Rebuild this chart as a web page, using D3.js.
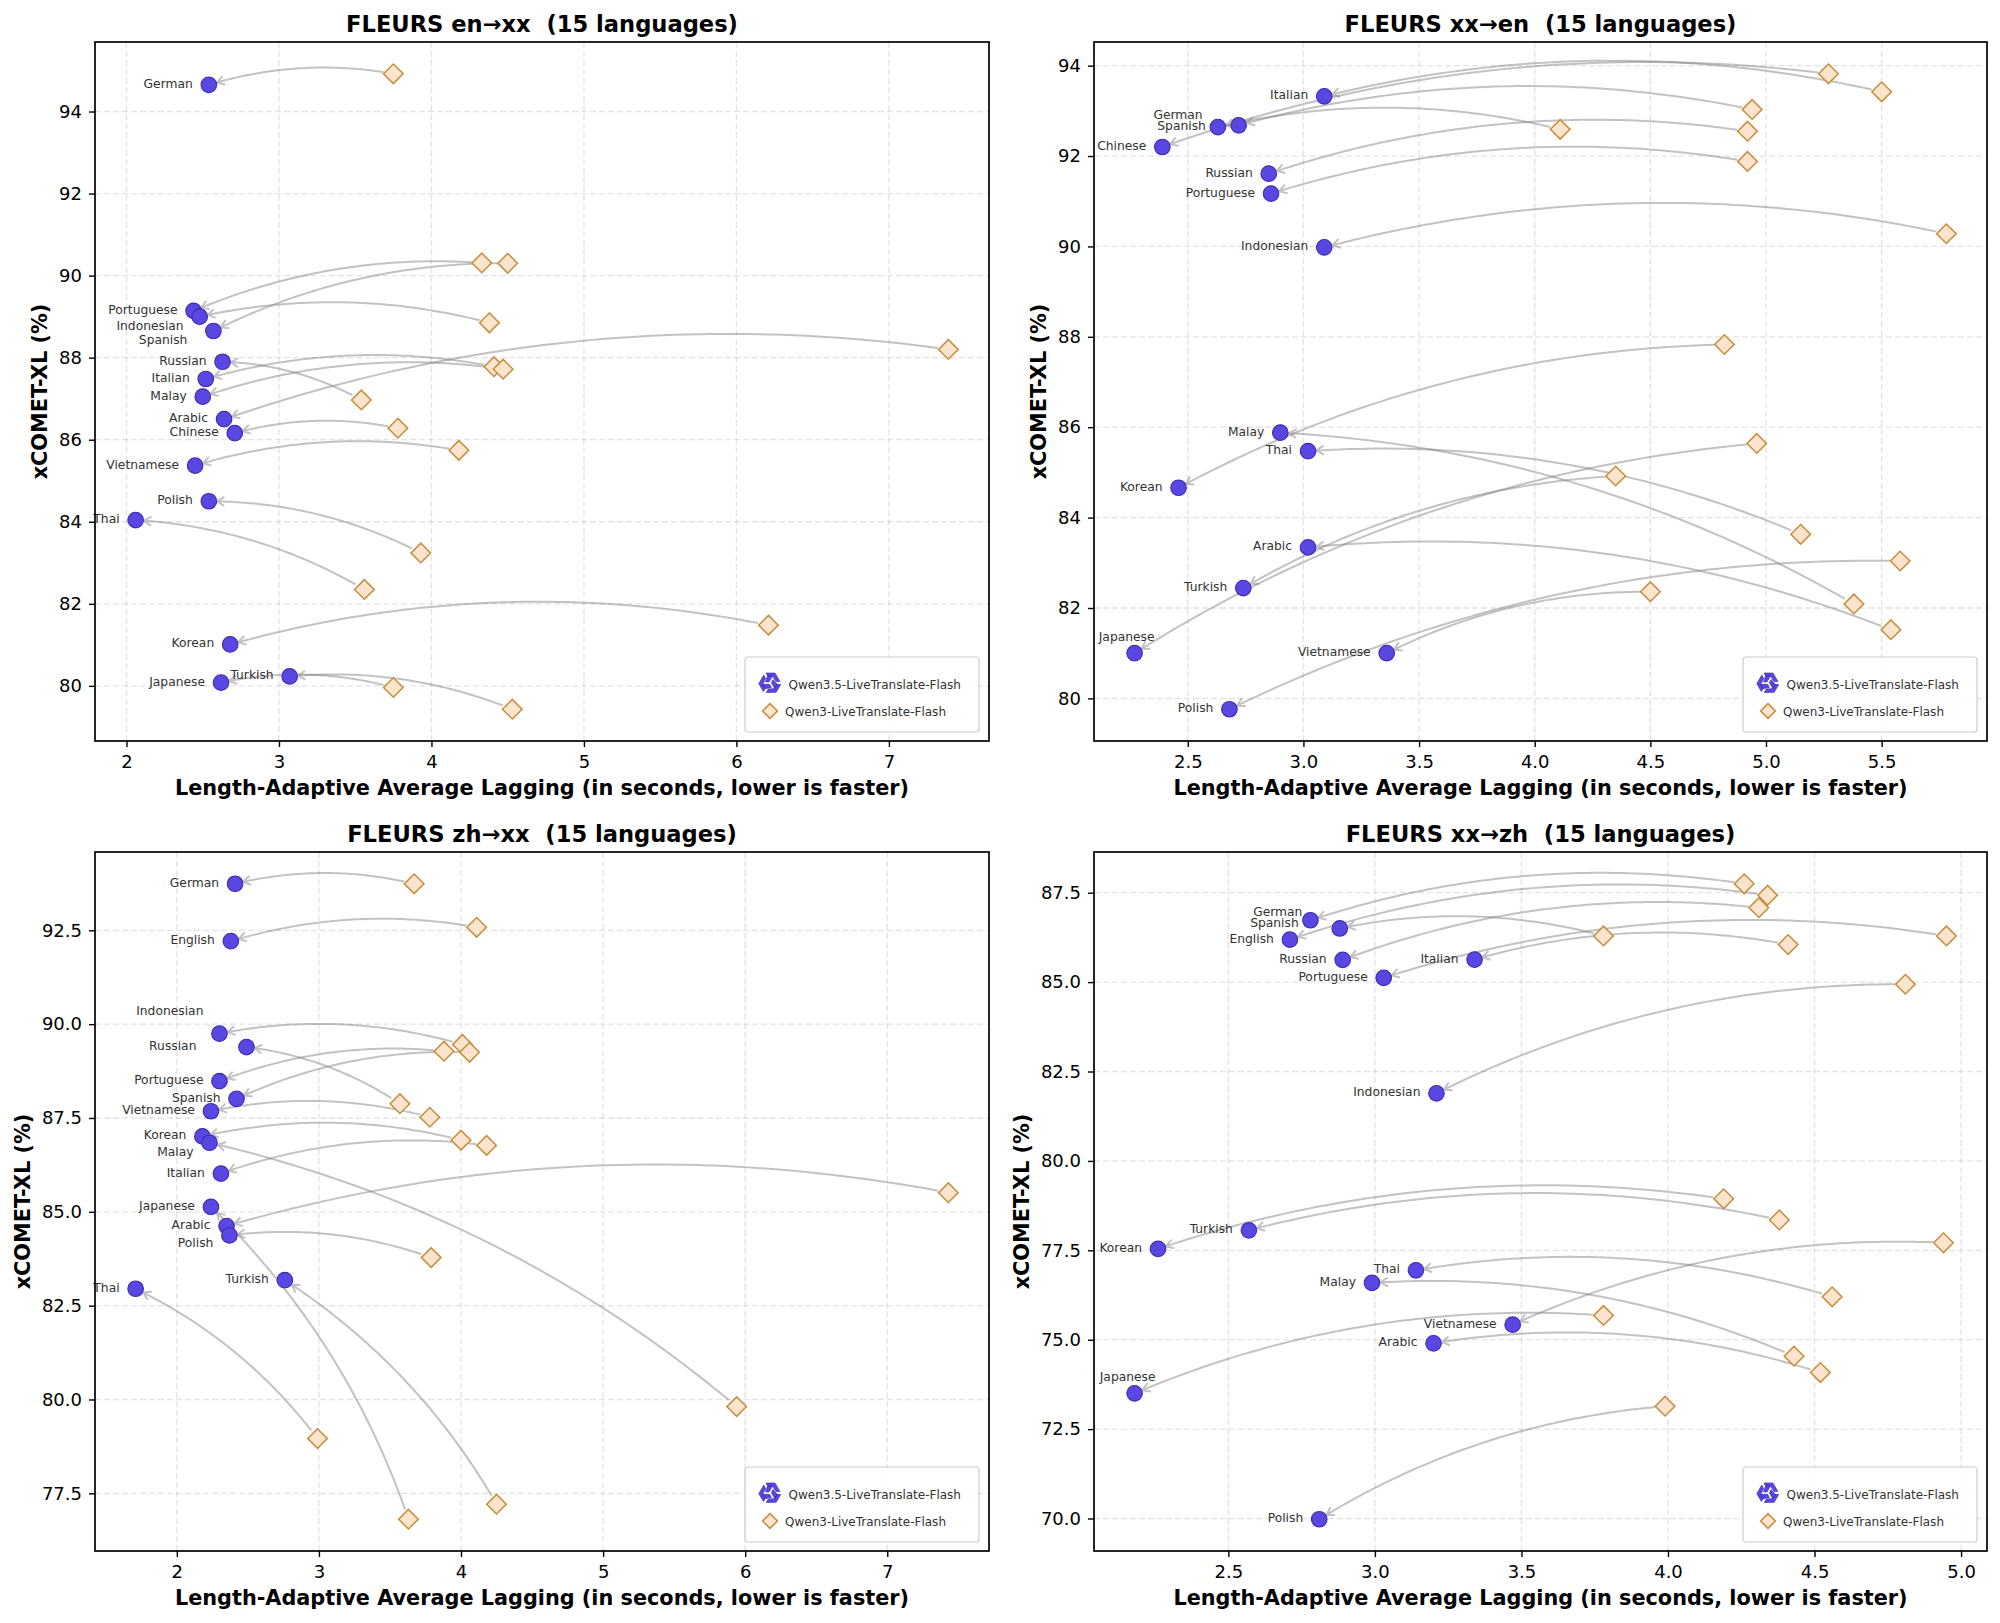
<!DOCTYPE html>
<html>
<head>
<meta charset="utf-8">
<script src="https://cdn.jsdelivr.net/npm/d3@7"></script>
<style>
  body { margin: 0; background: #fff; }
  svg { display: block; font-family: "DejaVu Sans", sans-serif; }
</style>
</head>
<body>
<svg id="chart" width="2000" height="1623"></svg>
<script>
// ---- data: FLEURS en→xx ----
const langsEnXX = ["German", "Portuguese", "Indonesian", "Spanish", "Russian", "Italian", "Malay", "Arabic",
  "Chinese", "Vietnamese", "Polish", "Thai", "Korean", "Turkish", "Japanese"];
const lagNewEnXX = [2.54, 2.44, 2.48, 2.57, 2.63, 2.52, 2.50, 2.64, 2.71, 2.45, 2.54, 2.06, 2.68, 3.07, 2.62];
const scoreNewEnXX = [94.65, 89.14, 89.00, 88.65, 87.90, 87.48, 87.05, 86.50, 86.16, 85.37, 84.50, 84.04, 81.01, 80.23, 80.08];
const lagOldEnXX = [3.75, 4.33, 4.38, 4.50, 3.54, 4.41, 4.47, 7.39, 3.78, 4.18, 3.93, 3.56, 6.21, 4.53, 3.75];
const scoreOldEnXX = [94.92, 90.31, 88.85, 90.30, 86.97, 87.78, 87.72, 88.20, 86.28, 85.74, 83.24, 82.35, 81.48, 79.43, 79.96];

// ---- data: FLEURS xx→en ----
const langsXXEn = ["Italian", "German", "Spanish", "Chinese", "Russian", "Portuguese", "Indonesian", "Malay",
  "Thai", "Korean", "Arabic", "Turkish", "Japanese", "Vietnamese", "Polish"];
const lagNewXXEn = [3.09, 2.72, 2.63, 2.39, 2.85, 2.86, 3.09, 2.90, 3.02, 2.46, 3.02, 2.74, 2.27, 3.36, 2.68];
const scoreNewXXEn = [93.32, 92.68, 92.64, 92.20, 91.61, 91.17, 89.98, 85.88, 85.47, 84.66, 83.34, 82.44, 81.00, 81.00, 79.76];
const lagOldXXEn = [5.50, 4.94, 4.11, 5.27, 4.92, 4.92, 5.78, 5.38, 5.15, 4.82, 5.54, 4.35, 4.96, 4.50, 5.58];
const scoreOldXXEn = [93.42, 93.03, 92.59, 93.82, 92.55, 91.88, 90.28, 82.09, 83.63, 87.83, 81.52, 84.92, 85.64, 82.36, 83.04];

// ---- data: FLEURS zh→xx ----
const langsZhXX = ["German", "English", "Indonesian", "Russian", "Portuguese", "Spanish", "Vietnamese", "Korean",
  "Malay", "Italian", "Japanese", "Arabic", "Polish", "Turkish", "Thai"];
const lagNewZhXX = [2.41, 2.38, 2.30, 2.49, 2.30, 2.42, 2.24, 2.18, 2.23, 2.31, 2.24, 2.35, 2.37, 2.76, 1.71];
const scoreNewZhXX = [93.74, 92.21, 89.75, 89.39, 88.48, 88.01, 87.68, 87.01, 86.84, 86.02, 85.13, 84.62, 84.37, 83.18, 82.95];
const lagOldZhXX = [3.67, 4.11, 4.01, 3.57, 3.88, 4.06, 3.78, 4.00, 5.94, 4.18, 3.63, 7.43, 3.79, 4.25, 2.99];
const scoreOldZhXX = [93.74, 92.58, 89.46, 87.88, 89.28, 89.25, 87.52, 86.91, 79.81, 86.77, 76.81, 85.51, 83.78, 77.21, 78.96];

// ---- data: FLEURS xx→zh ----
const langsXXZh = ["German", "Spanish", "English", "Russian", "Italian", "Portuguese", "Indonesian", "Turkish",
  "Korean", "Thai", "Malay", "Vietnamese", "Arabic", "Japanese", "Polish"];
const lagNewXXZh = [2.78, 2.88, 2.71, 2.89, 3.34, 3.03, 3.21, 2.57, 2.26, 3.14, 2.99, 3.47, 3.20, 2.18, 2.81];
const scoreNewXXZh = [86.73, 86.50, 86.19, 85.62, 85.63, 85.12, 81.89, 78.06, 77.54, 76.94, 76.59, 75.42, 74.90, 73.50, 69.98];
const lagOldXXZh = [4.26, 3.78, 4.34, 4.31, 4.41, 4.95, 4.81, 4.38, 4.19, 4.56, 4.43, 4.94, 4.52, 3.78, 3.99];
const scoreOldXXZh = [87.75, 86.29, 87.43, 87.08, 86.05, 86.29, 84.94, 78.35, 78.94, 76.20, 74.54, 77.71, 74.08, 75.68, 73.14];

// ---- tick labels ----
const xTicksEnXX = [2, 3, 4, 5, 6, 7];
const yTicksEnXX = [80, 82, 84, 86, 88, 90, 92, 94];
const xTicksXXEn = [2.5, 3.0, 3.5, 4.0, 4.5, 5.0, 5.5];
const yTicksXXEn = [80, 82, 84, 86, 88, 90, 92, 94];
const xTicksZhXX = [2, 3, 4, 5, 6, 7];
const yTicksZhXX = [77.5, 80.0, 82.5, 85.0, 87.5, 90.0, 92.5];
const xTicksXXZh = [2.5, 3.0, 3.5, 4.0, 4.5, 5.0];
const yTicksXXZh = [70.0, 72.5, 75.0, 77.5, 80.0, 82.5, 85.0, 87.5];

const seriesNames = ["Qwen3.5-LiveTranslate-Flash", "Qwen3-LiveTranslate-Flash"];

// label nudges (pixels) where labels were pushed apart in the original
const nudges = {
  en: { Indonesian: [0, 10], Spanish: [-10, 10] },
  xe: { German: [-20, -9], Spanish: [4, 0], Japanese: [36, -15] },
  zh: { Indonesian: [0, -22], Russian: [-34, 0], Malay: [0, 10], Polish: [0, 9] },
  xz: { German: [8, -7], Spanish: [-25, -4], Japanese: [37, -15] }
};

const panels = [
  { key: "en", title: "FLEURS en\u2192xx  (15 languages)", langs: langsEnXX, lagNew: lagNewEnXX, scoreNew: scoreNewEnXX,
    lagOld: lagOldEnXX, scoreOld: scoreOldEnXX, xTicks: xTicksEnXX, yTicks: yTicksEnXX, xf: "d", yf: "d",
    left: 95, top: 42, width: 894 },
  { key: "xe", title: "FLEURS xx\u2192en  (15 languages)", langs: langsXXEn, lagNew: lagNewXXEn, scoreNew: scoreNewXXEn,
    lagOld: lagOldXXEn, scoreOld: scoreOldXXEn, xTicks: xTicksXXEn, yTicks: yTicksXXEn, xf: ".1f", yf: "d",
    left: 1094, top: 42, width: 893 },
  { key: "zh", title: "FLEURS zh\u2192xx  (15 languages)", langs: langsZhXX, lagNew: lagNewZhXX, scoreNew: scoreNewZhXX,
    lagOld: lagOldZhXX, scoreOld: scoreOldZhXX, xTicks: xTicksZhXX, yTicks: yTicksZhXX, xf: "d", yf: ".1f",
    left: 95, top: 852, width: 894 },
  { key: "xz", title: "FLEURS xx\u2192zh  (15 languages)", langs: langsXXZh, lagNew: lagNewXXZh, scoreNew: scoreNewXXZh,
    lagOld: lagOldXXZh, scoreOld: scoreOldXXZh, xTicks: xTicksXXZh, yTicks: yTicksXXZh, xf: ".1f", yf: ".1f",
    left: 1094, top: 852, width: 893 }
];

const H = 699;
const RAD = 0.12;
const newFill = "#5A46E1", newStroke = "#3B2DAF";
const oldFill = "#FBE4CD", oldStroke = "#C88C3C";

const svg = d3.select("#chart");

function padded(vals) {
  const [a, b] = d3.extent(vals);
  const p = (b - a) * 0.05;
  return [a - p, b + p];
}

function arrowPath(p0, p2) {
  const mx = (p0[0] + p2[0]) / 2, my = (p0[1] + p2[1]) / 2;
  const c = [mx - RAD * (p2[1] - p0[1]), my + RAD * (p2[0] - p0[0])];
  const B = t => [
    (1 - t) * (1 - t) * p0[0] + 2 * t * (1 - t) * c[0] + t * t * p2[0],
    (1 - t) * (1 - t) * p0[1] + 2 * t * (1 - t) * c[1] + t * t * p2[1]
  ];
  const D = t => [2 * (1 - t) * (c[0] - p0[0]) + 2 * t * (p2[0] - c[0]),
                  2 * (1 - t) * (c[1] - p0[1]) + 2 * t * (p2[1] - c[1])];
  const dist = (a, b) => Math.hypot(a[0] - b[0], a[1] - b[1]);
  let t0 = 0, t1 = 1;
  while (t0 < 0.5 && dist(B(t0), p0) < 10) t0 += 0.001;
  while (t1 > 0.5 && dist(B(t1), p2) < 8) t1 -= 0.001;
  const pts = d3.range(61).map(i => B(t0 + (t1 - t0) * i / 60));
  const e = B(t1), d = D(t1), len = Math.hypot(d[0], d[1]);
  const u = [d[0] / len, d[1] / len], n = [-u[1], u[0]];
  const hl = 7.5, hw = 4.5;
  const w1 = [e[0] - hl * u[0] + hw * n[0], e[1] - hl * u[1] + hw * n[1]];
  const w2 = [e[0] - hl * u[0] - hw * n[0], e[1] - hl * u[1] - hw * n[1]];
  return d3.line()(pts) + "M" + w1 + "L" + e + "L" + w2;
}

function qwenLogo(g, cx, cy) {
  const logo = g.append("g").attr("transform", `translate(${cx},${cy})`);
  for (let k = 0; k < 3; k++) {
    logo.append("path")
      .attr("d", "M-4,-10 L5,-10 L10,-1.5 L6,-1.5 L2.5,-7 L-2.5,-7 Z M-2.5,-7 L2.5,-7 L-1,-1 L-4.5,-1 Z")
      .attr("transform", `rotate(${k * 120})`)
      .attr("fill", newFill)
      .attr("stroke", newStroke)
      .attr("stroke-width", 0.6);
  }
}

panels.forEach(p => {
  const x = d3.scaleLinear().domain(padded(p.lagNew.concat(p.lagOld))).range([p.left, p.left + p.width]);
  const y = d3.scaleLinear().domain(padded(p.scoreNew.concat(p.scoreOld))).range([p.top + H, p.top]);
  const g = svg.append("g");
  const bottom = p.top + H, right = p.left + p.width;

  // grid
  g.append("g").selectAll("line").data(p.xTicks).join("line")
    .attr("x1", d => x(d)).attr("x2", d => x(d)).attr("y1", p.top).attr("y2", bottom)
    .attr("stroke", "#b0b0b0").attr("stroke-opacity", 0.35).attr("stroke-width", 1.3).attr("stroke-dasharray", "6,3");
  g.append("g").selectAll("line").data(p.yTicks).join("line")
    .attr("y1", d => y(d)).attr("y2", d => y(d)).attr("x1", p.left).attr("x2", right)
    .attr("stroke", "#b0b0b0").attr("stroke-opacity", 0.35).attr("stroke-width", 1.3).attr("stroke-dasharray", "6,3");

  // arrows from old to new
  g.append("g").selectAll("path").data(p.langs).join("path")
    .attr("d", (d, i) => arrowPath([x(p.lagOld[i]), y(p.scoreOld[i])], [x(p.lagNew[i]), y(p.scoreNew[i])]))
    .attr("fill", "none").attr("stroke", "#808080").attr("stroke-opacity", 0.48).attr("stroke-width", 2);

  // old model diamonds
  g.append("g").selectAll("path").data(p.langs).join("path")
    .attr("d", d3.symbol(d3.symbolSquare, 192))
    .attr("transform", (d, i) => `translate(${x(p.lagOld[i])},${y(p.scoreOld[i])}) rotate(45)`)
    .attr("fill", oldFill).attr("stroke", oldStroke).attr("stroke-width", 1.5);

  // new model circles
  g.append("g").selectAll("circle").data(p.langs).join("circle")
    .attr("cx", (d, i) => x(p.lagNew[i])).attr("cy", (d, i) => y(p.scoreNew[i])).attr("r", 7.8)
    .attr("fill", newFill).attr("stroke", newStroke).attr("stroke-width", 1.1);

  // language labels
  const nd = nudges[p.key];
  g.append("g").selectAll("text").data(p.langs).join("text")
    .attr("x", (d, i) => x(p.lagNew[i]) - 16 + (nd[d] ? nd[d][0] : 0))
    .attr("y", (d, i) => y(p.scoreNew[i]) - 1 + (nd[d] ? nd[d][1] : 0))
    .attr("text-anchor", "end").attr("dominant-baseline", "central")
    .attr("font-size", 12.3).attr("fill", "#333").text(d => d);

  // axes
  const xa = g.append("g").attr("transform", `translate(0,${bottom})`)
    .call(d3.axisBottom(x).tickValues(p.xTicks).tickFormat(d3.format(p.xf)).tickSize(6).tickPadding(8.5));
  const ya = g.append("g").attr("transform", `translate(${p.left},0)`)
    .call(d3.axisLeft(y).tickValues(p.yTicks).tickFormat(d3.format(p.yf)).tickSize(6).tickPadding(7));
  [xa, ya].forEach(a => {
    a.select(".domain").remove();
    a.selectAll("line").attr("stroke", "#000").attr("stroke-width", 1.4);
    a.selectAll("text").attr("font-size", 18).attr("font-family", "DejaVu Sans").attr("fill", "#000");
  });

  // spines
  g.append("rect").attr("x", p.left).attr("y", p.top).attr("width", p.width).attr("height", H)
    .attr("fill", "none").attr("stroke", "#000").attr("stroke-width", 1.7);

  // title and axis labels
  g.append("text").attr("x", p.left + p.width / 2).attr("y", p.top - 10.4)
    .attr("text-anchor", "middle").attr("font-size", 22.6).attr("font-weight", "bold")
    .style("white-space", "pre").text(p.title);
  g.append("text").attr("x", p.left + p.width / 2).attr("y", bottom + 54)
    .attr("text-anchor", "middle").attr("font-size", 20.8).attr("font-weight", "bold")
    .text("Length-Adaptive Average Lagging (in seconds, lower is faster)");
  let maxW = 0;
  ya.selectAll("text").each(function () { maxW = Math.max(maxW, this.getComputedTextLength()); });
  const lx = p.left - 13 - maxW - 12;
  g.append("text").attr("transform", `translate(${lx},${p.top + H / 2}) rotate(-90)`)
    .attr("text-anchor", "middle").attr("font-size", 20.8).attr("font-weight", "bold")
    .text("xCOMET-XL (%)");

  // legend
  const lg = g.append("g").attr("transform", `translate(${right - 244},${bottom - 84})`);
  lg.append("rect").attr("width", 234).attr("height", 75).attr("rx", 3)
    .attr("fill", "#fff").attr("fill-opacity", 0.85).attr("stroke", "#cccccc").attr("stroke-width", 1.2);
  qwenLogo(lg, 25, 26);
  lg.append("path").attr("d", d3.symbol(d3.symbolSquare, 110))
    .attr("transform", "translate(25,54) rotate(45)")
    .attr("fill", oldFill).attr("stroke", oldStroke).attr("stroke-width", 1.5);
  lg.selectAll("text.leg").data(seriesNames).join("text").attr("class", "leg")
    .attr("x", (d, i) => i === 0 ? 43.5 : 40).attr("y", (d, i) => i === 0 ? 28 : 55)
    .attr("dominant-baseline", "central").attr("font-size", 12).attr("fill", "#333").text(d => d);
});
</script>
</body>
</html>
